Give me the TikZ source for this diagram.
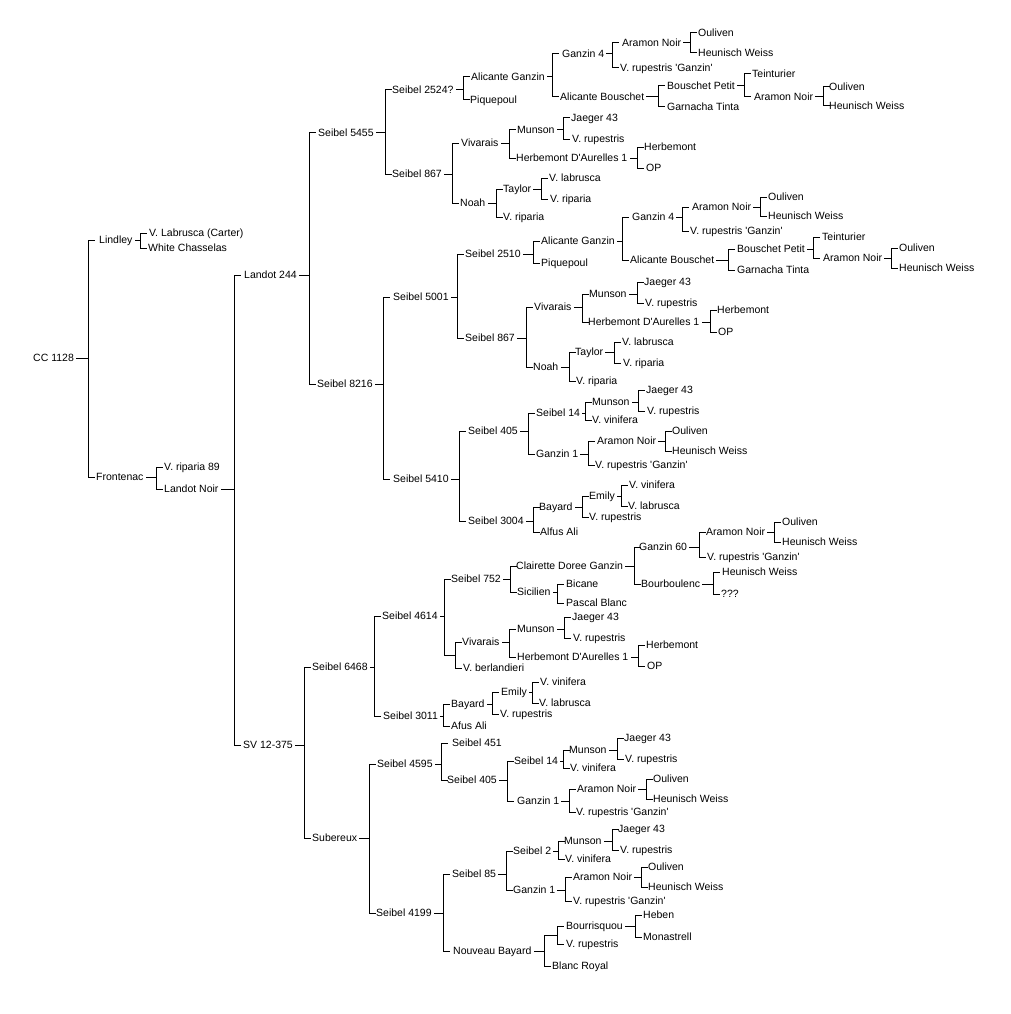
\documentclass[tikz,border=0pt]{standalone}
\usepackage{fontspec}
\setmainfont{Liberation Sans}
\newcommand\myq{\textquotesingle}
\tikzset{
  lbl/.style={anchor=west, inner xsep=2.5pt, inner ysep=0pt, text height=7.6pt, text depth=0pt, xshift=-2.5pt},
  tree/.style={line width=1pt, line cap=rect}
}
\newcommand\N[4]{\node[lbl] (#1) at (#2,#3) {#4};}
\newcommand\brk[4]{\draw[tree] (#1.east) -- (#1.east -| #4,0) (#4,0 |- #2.west) -- (#4,0 |- #3.west) (#4,0 |- #2.west) -- ++(6,0) (#4,0 |- #3.west) -- ++(6,0);}
\begin{document}
\begin{tikzpicture}[x=1pt,y=-1pt,font=\fontsize{10.5}{12}\selectfont]
\fill[white] (0,0) rectangle (1011,1014);
\useasboundingbox (0,0) rectangle (1011,1014);
% ---- left part
\N{cc}{33}{358}{CC 1128}
\N{lindley}{99}{240}{Lindley}
\N{vlabc}{149}{233}{V. Labrusca (Carter)}
\N{wch}{148}{248}{White Chasselas}
\N{frontenac}{96}{477}{Frontenac}
\N{vrip89}{164}{467}{V. riparia 89}
\N{lnoir}{164}{489}{Landot Noir}
\N{l244}{244}{275}{Landot 244}
\N{sv}{243}{745}{SV 12-375}
\brk{cc}{lindley}{frontenac}{88}
\brk{lindley}{vlabc}{wch}{140}
\brk{frontenac}{vrip89}{lnoir}{156}
\brk{lnoir}{l244}{sv}{234}
% ---- Landot 244
\N{s5455}{318}{133}{Seibel 5455}
\N{s8216}{317}{384}{Seibel 8216}
\brk{l244}{s5455}{s8216}{309}
\N{s2524}{392}{90}{Seibel 2524?}
\N{s867a}{392}{174}{Seibel 867}
\brk{s5455}{s2524}{s867a}{385}
\N{agA}{471}{77}{Alicante Ganzin}
\N{pqA}{470}{100}{Piquepoul}
\brk{s2524}{agA}{pqA}{463}
\N{g4A}{562}{54}{Ganzin 4}
\N{abA}{560}{97}{Alicante Bouschet}
\brk{agA}{g4A}{abA}{552}
\N{anA}{622}{43}{Aramon Noir}
\N{vrgA}{620}{68}{V. rupestris \myq Ganzin\myq}
\brk{g4A}{anA}{vrgA}{612}
\N{ouA}{698}{33}{Ouliven}
\N{hwA}{698}{53}{Heunisch Weiss}
\brk{anA}{ouA}{hwA}{690}
\N{bpA}{667}{86}{Bouschet Petit}
\N{gtA}{667}{107}{Garnacha Tinta}
\brk{abA}{bpA}{gtA}{658}
\N{teA}{752}{74}{Teinturier}
\N{antA}{754}{97}{Aramon Noir}
\brk{bpA}{teA}{antA}{744}
\N{outA}{829}{87}{Ouliven}
\N{hwtA}{829}{106}{Heunisch Weiss}
\brk{antA}{outA}{hwtA}{823}
\N{vivA}{461}{143}{Vivarais}
\N{noahA}{460}{203}{Noah}
\brk{s867a}{vivA}{noahA}{452}
\N{munA}{517}{130}{Munson}
\N{hdaA}{516}{158}{Herbemont D\myq Aurelles 1}
\brk{vivA}{munA}{hdaA}{509}
\N{jaA}{571}{118}{Jaeger 43}
\N{vruA}{572}{139}{V. rupestris}
\brk{munA}{jaA}{vruA}{563}
\N{heA}{644}{147}{Herbemont}
\N{opA}{646}{168}{OP}
\brk{hdaA}{heA}{opA}{637}
\N{tayA}{503}{189}{Taylor}
\N{vripA}{503}{217}{V. riparia}
\brk{noahA}{tayA}{vripA}{496}
\N{vlabA}{549}{178}{V. labrusca}
\N{vriptA}{550}{199}{V. riparia}
\brk{tayA}{vlabA}{vriptA}{541}
% ---- Seibel 8216
\N{s5001}{393}{297}{Seibel 5001}
\N{s5410}{393}{479}{Seibel 5410}
\brk{s8216}{s5001}{s5410}{383}
\N{s2510}{465}{254}{Seibel 2510}
\N{s867b}{465}{338}{Seibel 867}
\brk{s5001}{s2510}{s867b}{457}
\N{agB}{541}{241}{Alicante Ganzin}
\N{pqB}{541}{263}{Piquepoul}
\brk{s2510}{agB}{pqB}{533}
\N{g4B}{632}{217}{Ganzin 4}
\N{abB}{630}{260}{Alicante Bouschet}
\brk{agB}{g4B}{abB}{622}
\N{anB}{692}{207}{Aramon Noir}
\N{vrgB}{690}{231}{V. rupestris \myq Ganzin\myq}
\brk{g4B}{anB}{vrgB}{682}
\N{ouB}{768}{197}{Ouliven}
\N{hwB}{768}{216}{Heunisch Weiss}
\brk{anB}{ouB}{hwB}{760}
\N{bpB}{737}{249}{Bouschet Petit}
\N{gtB}{737}{270}{Garnacha Tinta}
\brk{abB}{bpB}{gtB}{728}
\N{teB}{822}{237}{Teinturier}
\N{antB}{823}{258}{Aramon Noir}
\brk{bpB}{teB}{antB}{813}
\N{outB}{899}{248}{Ouliven}
\N{hwtB}{899}{268}{Heunisch Weiss}
\brk{antB}{outB}{hwtB}{891}
\N{vivB}{534}{307}{Vivarais}
\N{noahB}{533}{367}{Noah}
\brk{s867b}{vivB}{noahB}{526}
\N{munB}{589}{294}{Munson}
\N{hdaB}{588}{322}{Herbemont D\myq Aurelles 1}
\brk{vivB}{munB}{hdaB}{582}
\N{jaB}{644}{282}{Jaeger 43}
\N{vruB}{645}{303}{V. rupestris}
\brk{munB}{jaB}{vruB}{637}
\N{heB}{717}{310}{Herbemont}
\N{opB}{718}{332}{OP}
\brk{hdaB}{heB}{opB}{710}
\N{tayB}{575}{352}{Taylor}
\N{vripB}{576}{381}{V. riparia}
\brk{noahB}{tayB}{vripB}{569}
\N{vlabB}{622}{342}{V. labrusca}
\N{vriptB}{623}{363}{V. riparia}
\brk{tayB}{vlabB}{vriptB}{614}
\N{sfoura}{468}{431}{Seibel 405}
\N{s3004}{468}{521}{Seibel 3004}
\brk{s5410}{sfoura}{s3004}{459}
\N{s14a}{536}{413}{Seibel 14}
\N{gonea}{536}{454}{Ganzin 1}
\brk{sfoura}{s14a}{gonea}{528}
\N{munC}{592}{402}{Munson}
\N{vvinC}{592}{420}{V. vinifera}
\brk{s14a}{munC}{vvinC}{585}
\N{jaC}{646}{390}{Jaeger 43}
\N{vruC}{647}{411}{V. rupestris}
\brk{munC}{jaC}{vruC}{638}
\N{anC}{597}{441}{Aramon Noir}
\N{vrgC}{595}{465}{V. rupestris \myq Ganzin\myq}
\brk{gonea}{anC}{vrgC}{588}
\N{ouC}{672}{431}{Ouliven}
\N{hwC}{672}{451}{Heunisch Weiss}
\brk{anC}{ouC}{hwC}{665}
\N{bayA}{539}{507}{Bayard}
\N{alfA}{540}{532}{Alfus Ali}
\brk{s3004}{bayA}{alfA}{533}
\N{emA}{589}{496}{Emily}
\N{vruD}{589}{517}{V. rupestris}
\brk{bayA}{emA}{vruD}{582}
\N{vvinD}{629}{485}{V. vinifera}
\N{vlabD}{628}{506}{V. labrusca}
\brk{emA}{vvinD}{vlabD}{621}
% ---- SV 12-375
\N{s6468}{312}{667}{Seibel 6468}
\N{sub}{312}{838}{Subereux}
\brk{sv}{s6468}{sub}{304}
\N{s4614}{382}{616}{Seibel 4614}
\N{s3011}{383}{716}{Seibel 3011}
\brk{s6468}{s4614}{s3011}{374}
\N{s752}{451}{579}{Seibel 752}
\coordinate (u1) at (455,655);
\draw[tree] (s4614.east) -- (s4614.east -| 444,0) (444,0 |- s752.west) -- (444,0 |- u1) -- (u1) (444,0 |- s752.west) -- ++(6,0);
\N{cdg}{516}{566}{Clairette Doree Ganzin}
\N{sic}{517}{592}{Sicilien}
\brk{s752}{cdg}{sic}{510}
\N{gsixty}{639}{547}{Ganzin 60}
\N{bour}{641}{584}{Bourboulenc}
\brk{cdg}{gsixty}{bour}{634}
\N{anE}{706}{532}{Aramon Noir}
\N{vrgE}{707}{557}{V. rupestris \myq Ganzin\myq}
\brk{gsixty}{anE}{vrgE}{699}
\N{ouE}{782}{522}{Ouliven}
\N{hwE}{782}{542}{Heunisch Weiss}
\brk{anE}{ouE}{hwE}{774}
\N{hwF}{722}{572}{Heunisch Weiss}
\N{qqq}{721}{594}{???}
\brk{bour}{hwF}{qqq}{713}
\N{bic}{566}{584}{Bicane}
\N{pb}{566}{603}{Pascal Blanc}
\brk{sic}{bic}{pb}{557}
\N{vivC}{462}{642}{Vivarais}
\N{vber}{463}{668}{V. berlandieri}
\draw[tree] (u1 |- vivC.west) -- (u1 |- vber.west) (u1 |- vivC.west) -- ++(6,0) (u1 |- vber.west) -- ++(6,0);
\N{munF}{517}{629}{Munson}
\N{hdaC}{517}{657}{Herbemont D\myq Aurelles 1}
\brk{vivC}{munF}{hdaC}{509}
\N{jaF}{572}{617}{Jaeger 43}
\N{vruF}{573}{638}{V. rupestris}
\brk{munF}{jaF}{vruF}{564}
\N{heC}{646}{645}{Herbemont}
\N{opC}{647}{666}{OP}
\brk{hdaC}{heC}{opC}{638}
\N{bayB}{451}{704}{Bayard}
\N{afus}{451}{726}{Afus Ali}
\brk{s3011}{bayB}{afus}{443}
\N{emB}{501}{692}{Emily}
\N{vruG}{500}{714}{V. rupestris}
\brk{bayB}{emB}{vruG}{492}
\N{vvinG}{540}{682}{V. vinifera}
\N{vlabG}{539}{703}{V. labrusca}
\brk{emB}{vvinG}{vlabG}{532}
% ---- Subereux
\N{s4595}{377}{764}{Seibel 4595}
\N{s4199}{376}{913}{Seibel 4199}
\brk{sub}{s4595}{s4199}{369}
\N{s451}{452}{743}{Seibel 451}
\N{sfourb}{447}{780}{Seibel 405}
\brk{s4595}{s451}{sfourb}{441}
\N{s14b}{514}{761}{Seibel 14}
\N{goneb}{517}{801}{Ganzin 1}
\brk{sfourb}{s14b}{goneb}{507}
\N{munH}{569}{750}{Munson}
\N{vvinH}{570}{768}{V. vinifera}
\brk{s14b}{munH}{vvinH}{563}
\N{jaH}{624}{738}{Jaeger 43}
\N{vruH}{625}{759}{V. rupestris}
\brk{munH}{jaH}{vruH}{617}
\N{anH}{577}{789}{Aramon Noir}
\N{vrgH}{576}{812}{V. rupestris \myq Ganzin\myq}
\brk{goneb}{anH}{vrgH}{569}
\N{ouH}{653}{779}{Ouliven}
\N{hwH}{653}{799}{Heunisch Weiss}
\brk{anH}{ouH}{hwH}{646}
\N{seightyfive}{452}{874}{Seibel 85}
\N{nb}{453}{951}{Nouveau Bayard}
\brk{s4199}{seightyfive}{nb}{443}
\N{stwo}{513}{851}{Seibel 2}
\N{gonec}{513}{890}{Ganzin 1}
\brk{seightyfive}{stwo}{gonec}{506}
\N{munI}{564}{841}{Munson}
\N{vvinI}{565}{859}{V. vinifera}
\brk{stwo}{munI}{vvinI}{558}
\N{jaI}{618}{829}{Jaeger 43}
\N{vruI}{620}{850}{V. rupestris}
\brk{munI}{jaI}{vruI}{612}
\N{anI}{573}{877}{Aramon Noir}
\N{vrgI}{573}{901}{V. rupestris \myq Ganzin\myq}
\brk{gonec}{anI}{vrgI}{565}
\N{ouI}{648}{867}{Ouliven}
\N{hwI}{648}{887}{Heunisch Weiss}
\brk{anI}{ouI}{hwI}{641}
\coordinate (u2) at (557,935);
\N{br}{552}{966}{Blanc Royal}
\draw[tree] (nb.east) -- (nb.east -| 544,0) (544,0 |- u2) -- (544,0 |- br.west) (544,0 |- u2) -- (u2) (544,0 |- br.west) -- ++(6,0);
\N{bourr}{566}{926}{Bourrisquou}
\N{vruJ}{566}{944}{V. rupestris}
\draw[tree] (u2 |- bourr.west) -- (u2 |- vruJ.west) (u2 |- bourr.west) -- ++(6,0) (u2 |- vruJ.west) -- ++(6,0);
\N{heb}{643}{915}{Heben}
\N{mon}{643}{937}{Monastrell}
\brk{bourr}{heb}{mon}{635}
\end{tikzpicture}
\end{document}
